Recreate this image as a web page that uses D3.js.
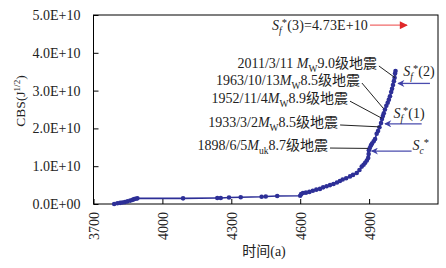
<!DOCTYPE html>
<html>
<head>
<meta charset="utf-8">
<script src="https://cdn.jsdelivr.net/npm/d3@7"></script>
<style>
  body { margin: 0; background: #fff; }
  text { font-family: "Liberation Serif", "Noto Sans CJK SC", serif; fill: #222; }
</style>
</head>
<body>
<svg id="chart" width="446" height="268"></svg>
<script>
// time axis: year + 3000 (a)
const years = [3790, 3804, 3816, 3826, 3837, 3848, 3860, 3870, 3877, 3884, 3891,
  4090, 4239, 4254, 4290, 4341, 4432, 4450, 4500, 4600,
  4604, 4612, 4625, 4640, 4655, 4670, 4686, 4700, 4715, 4730, 4745, 4760, 4773, 4785,
  4800, 4817, 4830, 4846, 4858, 4868, 4876, 4883, 4890, 4896, 4898, 4899, 4903, 4908,
  4913, 4920, 4926, 4933, 4939, 4945, 4952, 4956, 4960, 4964, 4969, 4975, 4981, 4986,
  4991, 4996, 5000, 5004, 5008, 5011, 5013, 5015];
// CBS in units of 1E+10 J^(1/2)
const cbsE10 = [0.00, 0.02, 0.03, 0.04, 0.05, 0.07, 0.09, 0.11, 0.13, 0.14, 0.15,
  0.15, 0.16, 0.16, 0.17, 0.18, 0.19, 0.20, 0.21, 0.22,
  0.26, 0.29, 0.30, 0.32, 0.35, 0.38, 0.40, 0.44, 0.47, 0.50, 0.53, 0.57, 0.61, 0.65,
  0.68, 0.73, 0.77, 0.82, 0.90, 0.99, 1.04, 1.09, 1.15, 1.22, 1.32, 1.42, 1.48, 1.55,
  1.60, 1.66, 1.72, 1.86, 1.93, 2.03, 2.14, 2.25, 2.33, 2.40, 2.50, 2.60, 2.68, 2.76,
  2.85, 2.96, 3.05, 3.15, 3.25, 3.34, 3.45, 3.52];

const xTicks = [3700, 4000, 4300, 4600, 4900];
const yTicks = [0, 1, 2, 3, 4, 5];

// earthquake annotations: label (end) position and the curve point it points to
const quakeLabels = [
  { parts: [['2011/3/11 '], ['M', 'i'], ['W', 'sub'], ['9.0级地震']], lx: 4934, ly: 3.73, year: 5013, val: 3.34 },
  { parts: [['1963/10/13'], ['M', 'i'], ['W', 'sub'], ['8.5级地震']], lx: 4860, ly: 3.28, year: 4962, val: 2.53 },
  { parts: [['1952/11/4'], ['M', 'i'], ['W', 'sub'], ['8.9级地震']], lx: 4808, ly: 2.80, year: 4955, val: 2.27 },
  { parts: [['1933/3/2'], ['M', 'i'], ['W', 'sub'], ['8.5级地震']], lx: 4765, ly: 2.17, year: 4947, val: 2.04 },
  { parts: [['1898/6/5'], ['M', 'i'], ['uk', 'sub'], ['8.7级地震']], lx: 4721, ly: 1.56, year: 4896, val: 1.47 }
];

// threshold arrows (value in 1E+10)
const thresholds = [
  { parts: [['S', 'i'], ['f', 'isub'], ['*', 'sup'], ['(2)']], val: 3.19, from: 5165, to: 5026, tx: 5049, ty: 3.52 },
  { parts: [['S', 'i'], ['f', 'isub'], ['*', 'sup'], ['(1)']], val: 2.12, from: 5129, to: 4969, tx: 5006, ty: 2.40 },
  { parts: [['S', 'i'], ['c', 'isub'], ['*', 'sup']], val: 1.40, from: 5085, to: 4911, tx: 5089, ty: 1.56 }
];
const upperLimit = { parts: [['S', 'i'], ['f', 'isub'], ['*', 'sup'], ['(3)=4.73E+10']], val: 4.73, from: 4904, to: 5065, tx: 4895, tx0: 4477 };

const svg = d3.select('#chart');
const margin = { left: 93.5, right: 438, top: 15, bottom: 204 };

const x = d3.scaleLinear().domain([3700, 5200]).range([margin.left, margin.right]);
const y = d3.scaleLinear().domain([0, 5]).range([margin.bottom, margin.top]);

// arrow heads
const defs = svg.append('defs');
defs.append('marker').attr('id', 'headBlue')
  .attr('viewBox', '0 0 10 10').attr('refX', 9).attr('refY', 5)
  .attr('markerWidth', 8).attr('markerHeight', 7).attr('markerUnits', 'userSpaceOnUse')
  .attr('orient', 'auto')
  .append('path').attr('d', 'M0,0L10,5L0,10L3,5Z').attr('fill', '#3d3fa6');
defs.append('marker').attr('id', 'headRed')
  .attr('viewBox', '0 0 10 10').attr('refX', 9).attr('refY', 5)
  .attr('markerWidth', 9).attr('markerHeight', 8).attr('markerUnits', 'userSpaceOnUse')
  .attr('orient', 'auto')
  .append('path').attr('d', 'M0,0L10,5L0,10Z').attr('fill', '#e0282a');

// axes
const yAxis = svg.append('g')
  .attr('transform', `translate(${margin.left},0)`)
  .call(d3.axisLeft(y).tickValues(yTicks).tickSizeInner(-5).tickSizeOuter(0).tickPadding(13)
    .tickFormat(d => d === 0 ? '0.0E+00' : d.toFixed(1) + 'E+10'));

const xAxis = svg.append('g')
  .attr('transform', `translate(0,${margin.bottom})`)
  .call(d3.axisBottom(x).tickValues(xTicks).tickSizeInner(-5).tickSizeOuter(0)
    .tickFormat(d3.format('d')));

xAxis.selectAll('text')
  .attr('transform', 'rotate(-90)')
  .attr('x', -8).attr('y', 0).attr('dy', '0.35em')
  .style('text-anchor', 'end');

[xAxis, yAxis].forEach(g => {
  g.select('.domain').remove();
  g.selectAll('line').attr('stroke', '#000');
  g.selectAll('text').style('font-size', '14px').attr('fill', '#333');
});

// frame
svg.append('rect')
  .attr('x', margin.left).attr('y', margin.top)
  .attr('width', margin.right - margin.left).attr('height', margin.bottom - margin.top)
  .attr('fill', 'none').attr('stroke', '#000').attr('stroke-width', 1);

// axis titles
const yTitle = svg.append('text')
  .attr('transform', 'translate(20,101) rotate(-90)')
  .attr('text-anchor', 'middle').attr('dy', '0.35em')
  .style('font-size', '13.5px');
yTitle.append('tspan').text('CBS(J');
yTitle.append('tspan').text('1/2').style('font-size', '9px').attr('dy', -5);
yTitle.append('tspan').text(')').attr('dy', 5);

svg.append('text')
  .attr('x', 264).attr('y', 251).attr('dy', '0.35em')
  .attr('text-anchor', 'middle').style('font-size', '14px')
  .text('时间(a)');

// series
const points = years.map((t, i) => ({ t, v: cbsE10[i] }));
const line = d3.line().x(d => x(d.t)).y(d => y(d.v));

svg.append('path')
  .datum(points)
  .attr('d', line)
  .attr('fill', 'none')
  .attr('stroke', '#2d2f97')
  .attr('stroke-width', 1.6);

svg.append('g')
  .selectAll('circle')
  .data(points)
  .enter()
  .append('circle')
  .attr('cx', d => x(d.t))
  .attr('cy', d => y(d.v))
  .attr('r', 2.3)
  .attr('fill', '#2d2f97');

// rich text helper: plain, italic, subscript, superscript pieces
function richText(sel, parts, size) {
  let shift = 0;
  parts.forEach(([s, kind]) => {
    let target = 0;
    const ts = sel.append('tspan').text(s);
    if (kind === 'i' || kind === 'isub') ts.style('font-style', 'italic');
    if (kind === 'sub' || kind === 'isub') { target = size * 0.3; ts.style('font-size', (size * 0.68) + 'px'); }
    if (kind === 'sup') { target = -size * 0.3; ts.style('font-size', (size * 0.75) + 'px'); }
    ts.attr('dy', target - shift);
    shift = target;
  });
}

// earthquake labels
const qg = svg.append('g');
quakeLabels.forEach(q => {
  const t = qg.append('text')
    .attr('x', x(q.lx)).attr('y', y(q.ly) + 5)
    .attr('text-anchor', 'end')
    .style('font-size', '14px');
  richText(t, q.parts, 14);
  qg.append('line')
    .attr('x1', x(q.lx) + 2).attr('y1', y(q.ly) + 3)
    .attr('x2', x(q.year)).attr('y2', y(q.val))
    .attr('stroke', '#222').attr('stroke-width', 1);
});

// threshold arrows
thresholds.forEach(d => {
  svg.append('line')
    .attr('x1', x(d.from)).attr('y1', y(d.val))
    .attr('x2', x(d.to)).attr('y2', y(d.val))
    .attr('stroke', '#4a4cae').attr('stroke-width', 1.3)
    .attr('marker-end', 'url(#headBlue)');
  const t = svg.append('text')
    .attr('x', x(d.tx)).attr('y', y(d.ty) + 5)
    .style('font-size', '14px');
  richText(t, d.parts, 14);
});

// upper limit (red arrow)
svg.append('line')
  .attr('x1', x(upperLimit.from)).attr('y1', y(upperLimit.val))
  .attr('x2', x(upperLimit.to)).attr('y2', y(upperLimit.val))
  .attr('stroke', '#f06a6a').attr('stroke-width', 1.3)
  .attr('marker-end', 'url(#headRed)');
const ut = svg.append('text')
  .attr('x', x(upperLimit.tx0)).attr('y', y(upperLimit.val) + 5)
  .style('font-size', '14px');
richText(ut, upperLimit.parts, 14);
// stretch spacing so the label fills the span up to the arrow, as in the figure
const want = x(upperLimit.tx) - x(upperLimit.tx0);
const have = ut.node().getComputedTextLength();
if (have < want) ut.attr('letter-spacing', ((want - have) / 15).toFixed(2) + 'px');
</script>
</body>
</html>
